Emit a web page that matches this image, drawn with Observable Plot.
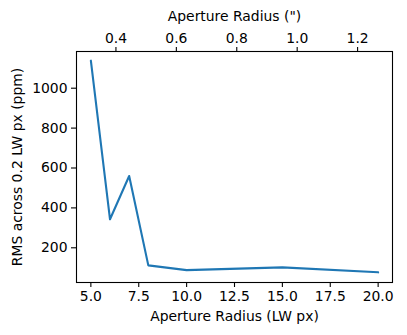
<!DOCTYPE html>
<html>
<head>
<meta charset="utf-8">
<script src="https://cdn.jsdelivr.net/npm/d3@7"></script>
<script src="https://cdn.jsdelivr.net/npm/@observablehq/plot@0.6"></script>
<style>
  html, body { margin: 0; padding: 0; background: white; }
</style>
</head>
<body>
<div id="chart"></div>
<script>
const lwRadius = [5, 6, 7, 8, 10, 15, 20];
const rmsPpm = [1138, 343, 560, 112, 88, 102, 77];
const xTicks = [5, 7.5, 10, 12.5, 15, 17.5, 20];
const yTicks = [200, 400, 600, 800, 1000];
const arcsecTicks = [0.4, 0.6, 0.8, 1.0, 1.2];
const arcsecPerPx = 0.0634;

const data = lwRadius.map((x, i) => ({x, y: rmsPpm[i]}));

const chart = Plot.plot({
  width: 407,
  height: 335,
  marginLeft: 76,
  marginRight: 15,
  marginTop: 51,
  marginBottom: 53,
  style: {fontFamily: "DejaVu Sans", fontSize: "13.9px", background: "white", color: "black"},
  x: {domain: [4.25, 20.75]},
  y: {domain: [26, 1184]},
  marks: [
    Plot.line(data, {x: "x", y: "y", stroke: "#1f77b4", strokeWidth: 2.1}),
    Plot.frame({stroke: "black", strokeWidth: 1.1}),
    Plot.axisX({
      anchor: "bottom", ticks: xTicks, tickFormat: d => d.toFixed(1),
      tickSize: 5, tickPadding: 4, strokeWidth: 1.1,
      label: "Aperture Radius (LW px)", labelAnchor: "center", labelArrow: "none", labelOffset: 38
    }),
    Plot.axisX({
      anchor: "top", ticks: arcsecTicks.map(a => a / arcsecPerPx),
      tickFormat: d => (d * arcsecPerPx).toFixed(1),
      tickSize: 5, tickPadding: 4, strokeWidth: 1.1,
      label: "Aperture Radius (\")", labelAnchor: "center", labelArrow: "none", labelOffset: 40
    }),
    Plot.axisY({
      anchor: "left", ticks: yTicks, tickFormat: d => String(d),
      tickSize: 5, tickPadding: 4, strokeWidth: 1.1,
      label: "RMS across 0.2 LW px (ppm)", labelAnchor: "center", labelArrow: "none", labelOffset: 64
    })
  ]
});
document.getElementById("chart").appendChild(chart);
</script>
</body>
</html>
